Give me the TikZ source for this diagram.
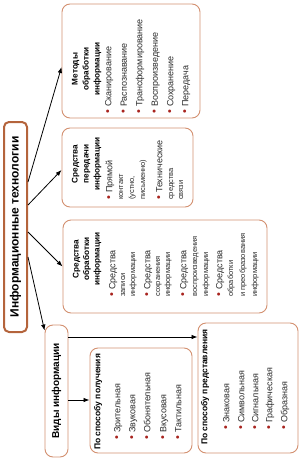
\documentclass[tikz,border=0pt]{standalone}
\usepackage{fontspec}
\setmainfont{Liberation Sans}
\usetikzlibrary{arrows.meta}
\definecolor{bord}{HTML}{D39070}
\definecolor{mbord}{HTML}{B4643C}
\definecolor{bulc}{HTML}{A8241E}
\definecolor{txt}{HTML}{2A2A2A}
\newcommand\bul{{\fontsize{11}{11}\selectfont\textcolor{bulc}{\textbullet}}\hspace{3pt}}
\begin{document}
\begin{tikzpicture}[x=1pt,y=-1pt,
  box/.style={draw=bord, line width=0.9pt, rounded corners=8pt, inner sep=0pt},
  mainbox/.style={draw=mbord, line width=2pt, rounded corners=5pt, inner sep=0pt},
  ttl/.style={rotate=90, anchor=base, inner sep=0pt, font=\bfseries\fontsize{8.2}{9}\selectfont},
  ttlw/.style={rotate=90, anchor=base west, inner sep=0pt, font=\bfseries\fontsize{8.5}{9}\selectfont},
  li/.style={rotate=90, anchor=base west, inner sep=0pt, text=txt, font=\fontsize{9}{10}\selectfont},
  lc/.style={rotate=90, anchor=base west, inner sep=0pt, text=txt, font=\fontsize{7.5}{9}\selectfont},
  arr/.style={-{Latex[length=6pt,width=4.5pt]}, line width=0.8pt}]
\useasboundingbox (0,0) rectangle (300,463);
% boxes
\node[mainbox, minimum width=23pt, minimum height=210pt] (main) at (15.5,227) {};
\node[box, minimum width=138pt, minimum height=114pt] (b1) at (131,61) {};
\node[box, minimum width=131pt, minimum height=79pt] (b2) at (127.5,167.5) {};
\node[box, minimum width=204pt, minimum height=93pt] (b3) at (165,266.5) {};
\node[box, minimum width=23pt, minimum height=132pt] (b4) at (56.5,391) {};
\node[box, minimum width=102pt, minimum height=105pt] (b5) at (141,400.5) {};
\node[box, minimum width=100pt, minimum height=130pt] (b6) at (248,388) {};
% main texts
\node[rotate=90, inner sep=0pt, font=\bfseries\fontsize{12}{13}\selectfont] (mt) at (main) {Информационные технологии};
\node[rotate=90, inner sep=0pt, font=\bfseries\fontsize{10}{11}\selectfont] (b4t) at (b4) {Виды информации};
% box 1
\foreach \t/\x [count=\i] in {Методы/77.5, обработки/88.5, информации/99.5}
  \node[ttl] (b1t\i) at (\x,69) {\t};
\foreach \t/\x [count=\i] in {Сканирование/111.3, Распознавание/126.8, Трансформирование/142.3, Воспроизведение/157.8, Сохранение/173.3, Передача/188.3}
  \node[li] (b1l\i) at (\x,114) {\bul\t};
% box 2
\foreach \t/\x [count=\i] in {Средства/77.5, передачи/88.5, информации/99.5}
  \node[ttl] (b2t\i) at (\x,164) {\t};
\node[li] (b2l1) at (112.3,200) {\bul Прямой};
\node[lc] (b2l2) at (123,200) {контакт};
\node[lc] (b2l3) at (134,200) {(устно,};
\node[lc] (b2l4) at (145,200) {письменно)};
\node[li] (b2l5) at (162.3,200) {\bul Технические};
\node[lc] (b2l6) at (173,200) {средства};
\node[lc] (b2l7) at (183,200) {связи};
% box 3
\foreach \t/\x [count=\i] in {Средства/78.5, обработки/89, информации/99.5}
  \node[ttl] (b3t\i) at (\x,259) {\t};
\node[li] (b3l1) at (115.3,297) {\bul Средства};
\node[lc] (b3l2) at (125,297) {записи};
\node[lc] (b3l3) at (135,297) {информации};
\node[li] (b3l4) at (150.3,297) {\bul Средства};
\node[lc] (b3l5) at (160,297) {сохранения};
\node[lc] (b3l6) at (170,297) {информации};
\node[li] (b3l7) at (186.3,297) {\bul Средства};
\node[lc] (b3l8) at (197,297) {воспроизведения};
\node[lc] (b3l9) at (208,297) {информации};
\node[li] (b3l10) at (222.3,297) {\bul Средства};
\node[lc] (b3l11) at (233,297) {обработки};
\node[lc] (b3l12) at (245,297) {и преобразования};
\node[lc] (b3l13) at (257,297) {информации};
% box 5
\node[ttlw] (b5t) at (100.3,450) {По способу получения};
\foreach \t/\x [count=\i] in {Зрительная/120.3, Звуковая/135.3, Обонятельная/150.3, Вкусовая/166.3, Тактильная/181.3}
  \node[li] (b5l\i) at (\x,440) {\bul\t};
% box 6
\node[ttlw] (b6t) at (207.3,445) {По способу представления};
\foreach \t/\x [count=\i] in {Знаковая/229.3, Символьная/244.3, Сигнальная/258.3, Графическая/272.3, Образная/287.3}
  \node[li] (b6l\i) at (\x,430) {\bul\t};
% arrows
\draw[arr] ([yshift=45pt]main.east) -- ([yshift=-6pt]b1.west);
\draw[arr] ([yshift=22pt]main.east) -- ([yshift=-2.5pt]b2.west);
\draw[arr] ([yshift=-5pt]main.east) -- (b3.west);
\draw[arr] ([yshift=-30pt]main.east) -- ([yshift=-6pt]b4.north west);
\coordinate (c1) at ([yshift=54pt]b4.east);
\coordinate (c2) at ([yshift=-9pt]b4.east);
\draw[arr] (c1) -- (c1 -| b6.west);
\draw[arr] (c2) -- (c2 -| b5.west);
\end{tikzpicture}
\end{document}
